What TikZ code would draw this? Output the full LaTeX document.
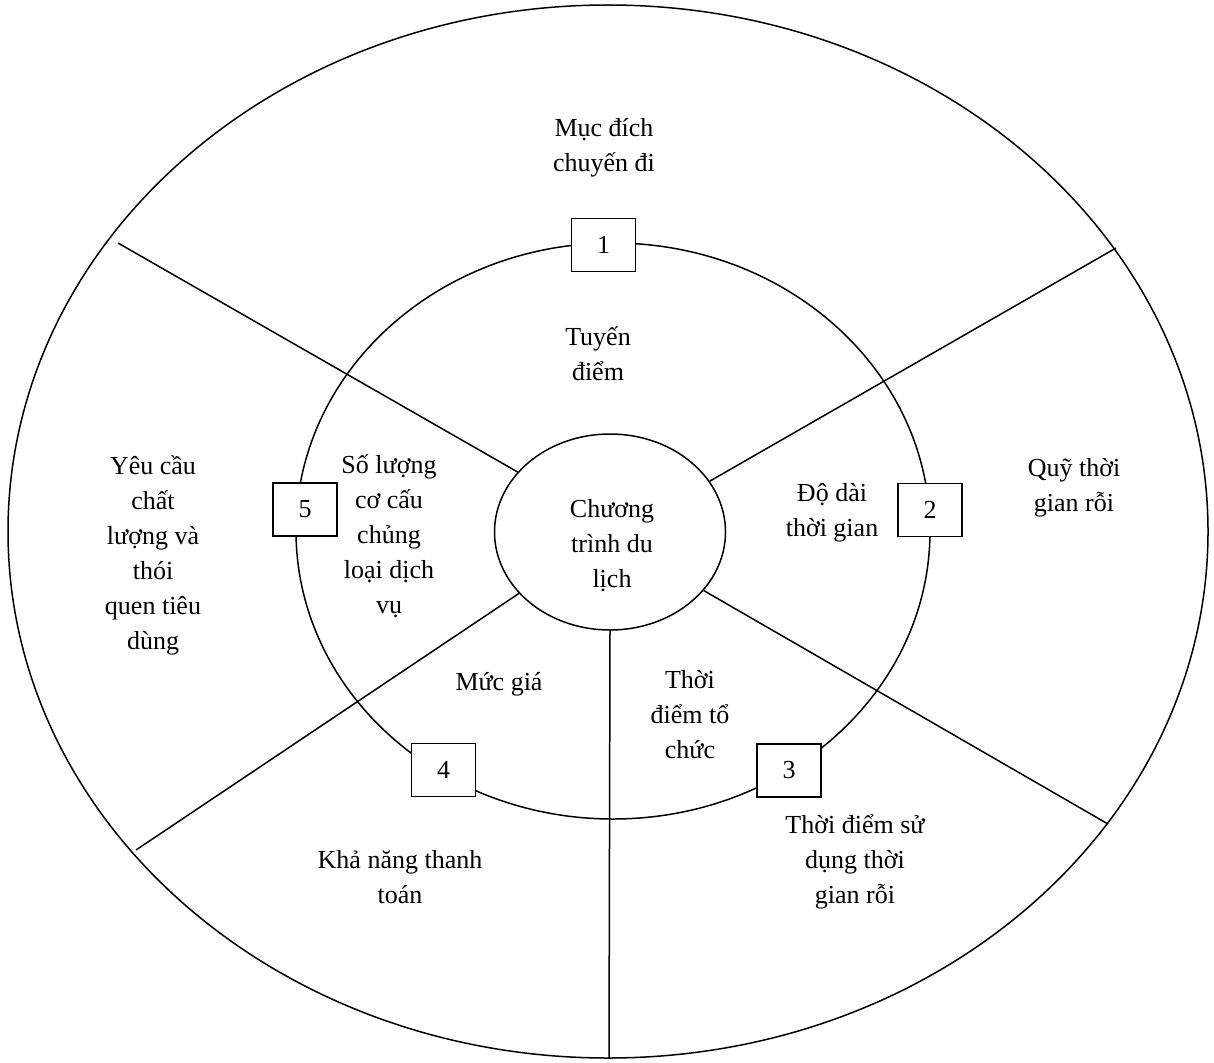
\documentclass[tikz,border=0pt]{standalone}
\usepackage{fontspec}
\setmainfont{Liberation Serif}
\usetikzlibrary{shapes.geometric}

\begin{document}
\begin{tikzpicture}[x=1pt,y=-1pt,
  ring/.style={line width=1.5pt},
  spoke/.style={line width=1.5pt},
  label/.style={align=center,inner sep=0pt,font=\fontsize{26pt}{35pt}\selectfont},
  numbox/.style={draw,line width=1.5pt,fill=white,minimum width=64pt,minimum height=53pt,
                 inner sep=0pt,font=\fontsize{26pt}{35pt}\selectfont}]
  \useasboundingbox (0,0) rectangle (1214,1062);

  % outer ring and middle ring
  \draw[ring] (608,531.5) ellipse [x radius=600pt, y radius=526.5pt];
  \draw[ring] (613,531) ellipse [x radius=317pt, y radius=288pt];

  % central programme
  \node[ellipse,draw,line width=1.5pt,minimum width=231pt,minimum height=196pt,inner sep=0pt]
    (core) at (610,532) {};
  \node[label] (coretext) at (612,546) {Chương\\trình du\\lịch};

  % free ends of the spokes on the outer ring
  \coordinate (ul) at (118,243);
  \coordinate (ur) at (1116,248);
  \coordinate (lr) at (1108,824);
  \coordinate (ll) at (136,850);
  \coordinate (bt) at (609,1058);

  \draw[spoke] (core.147) -- (ul);
  \draw[spoke] (core.27) -- (ur);
  \draw[spoke] (core.-32) -- (lr);
  \draw[spoke] (core.214) -- (ll);
  \draw[spoke] (core.270) -- (bt);

  % numbered boxes on the middle ring
  \node[numbox] (b1) at (603.5,245) {1};
  \node[numbox] (b2) at (930,510) {2};
  \node[numbox] (b3) at (789,770.5) {3};
  \node[numbox] (b4) at (443.5,770) {4};
  \node[numbox] (b5) at (305,509.5) {5};

  % inner sector labels
  \node[label] (t1) at (598,354) {Tuyến\\điểm};
  \node[label] (t2) at (832,513) {Độ dài\\thời gian};
  \node[label] (t3) at (690,715) {Thời\\điểm tổ\\chức};
  \node[label] (t4) at (499,684) {Mức giá};
  \node[label] (t5) at (389,536) {Số lượng\\cơ cấu\\chủng\\loại dịch\\vụ};

  % outer sector labels
  \node[label] (o1) at (604,148) {Mục đích\\chuyến đi};
  \node[label] (o2) at (1074,488) {Quỹ thời\\gian rỗi};
  \node[label] (o3) at (855,862) {Thời điểm sử\\dụng thời\\gian rỗi};
  \node[label] (o4) at (400,877) {Khả năng thanh\\toán};
  \node[label] (o5) at (153,555) {Yêu cầu\\chất\\lượng và\\thói\\quen tiêu\\dùng};
\end{tikzpicture}
\end{document}
